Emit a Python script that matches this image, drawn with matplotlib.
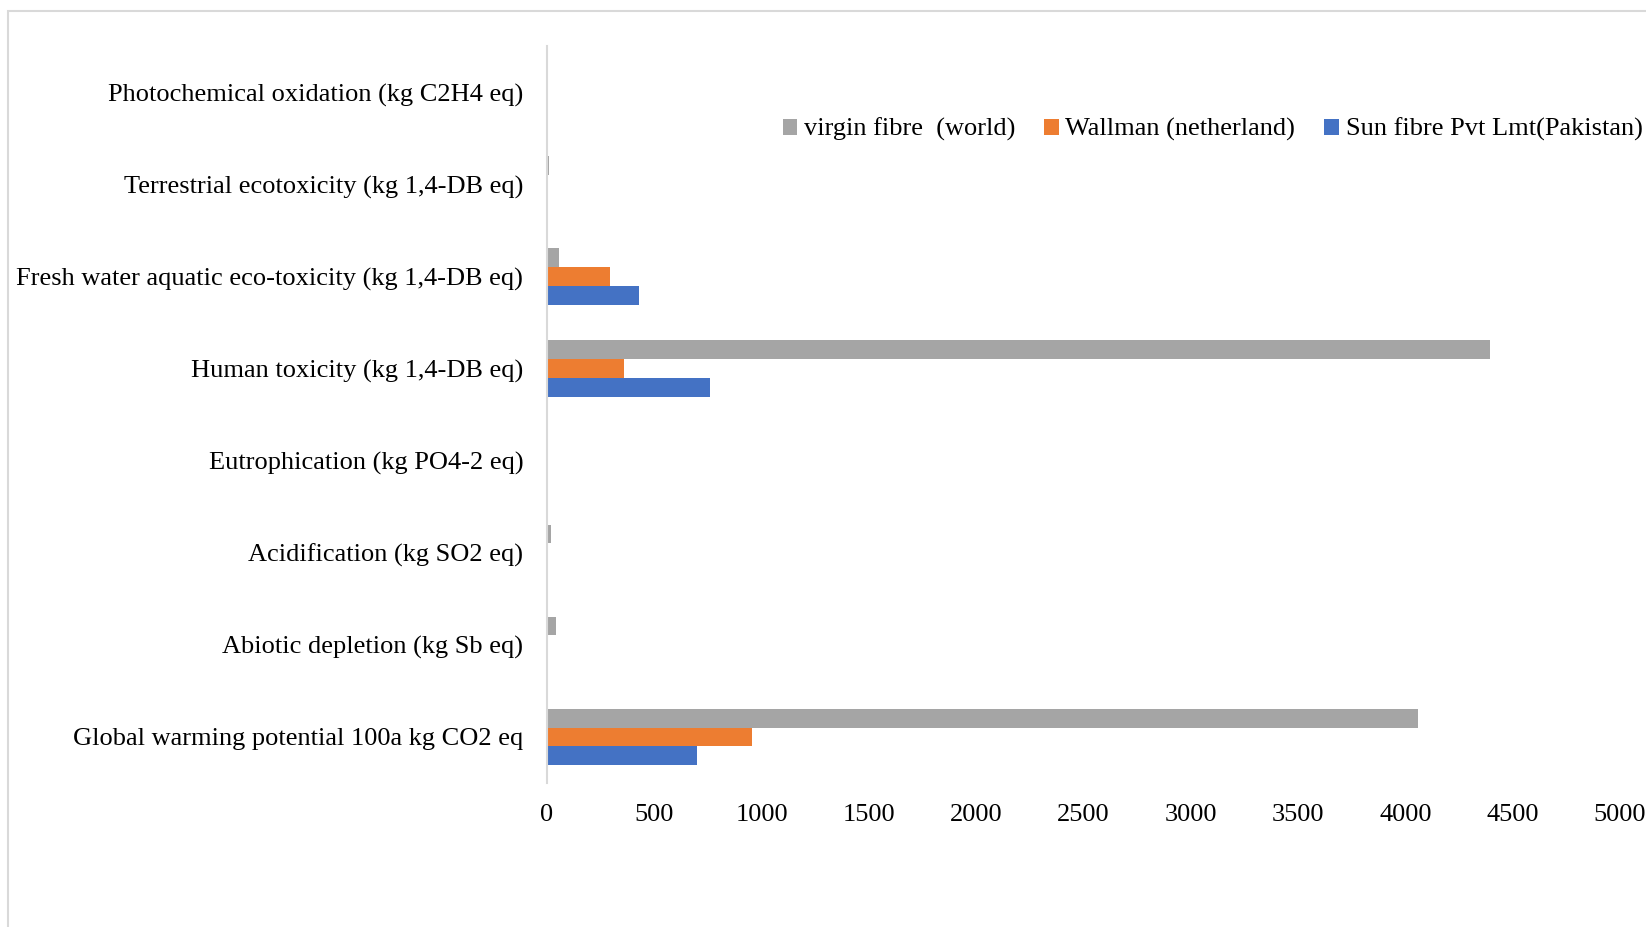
import matplotlib
matplotlib.use("Agg")
import matplotlib.pyplot as plt
from matplotlib.patches import Rectangle
import numpy as np

plt.rcParams['font.family'] = ['Liberation Serif', 'DejaVu Serif']

categories = [
    "Global warming potential 100a kg CO2 eq",
    "Abiotic depletion (kg Sb eq)",
    "Acidification (kg SO2 eq)",
    "Eutrophication (kg PO4-2 eq)",
    "Human toxicity (kg 1,4-DB eq)",
    "Fresh water aquatic eco-toxicity (kg 1,4-DB eq)",
    "Terrestrial ecotoxicity (kg 1,4-DB eq)",
    "Photochemical oxidation (kg C2H4 eq)",
]
virgin_world = [4060, 42, 19, 2, 4392, 56, 10, 1]
wallman_nl = [955, 2, 1, 1, 357, 293, 2, 0.5]
sun_fibre_pk = [697, 5, 1, 0.5, 758, 427, 1, 0.3]

series_names = ["virgin fibre  (world)", "Wallman (netherland)", "Sun fibre Pvt Lmt(Pakistan)"]
colors = ["#A5A5A5", "#ED7D31", "#4472C4"]

fig = plt.figure(figsize=(16.46, 9.27), dpi=100)
ax = fig.add_axes([0.3323, 0.1553, 0.6519, 0.7947])

y = np.arange(len(categories))
h = 0.205
offsets = [h, 0.0, -h]
for vals, off, col, name in zip([virgin_world, wallman_nl, sun_fibre_pk], offsets, colors, series_names):
    ax.barh(y + off, vals, height=h, color=col, label=name)

ax.set_xlim(0, 5000)
ax.set_ylim(-0.5, len(categories) - 0.5)
ax.set_xticks(np.arange(0, 5001, 500))
ax.set_yticks(y)
ax.set_yticklabels(categories)
ax.tick_params(axis='both', length=0, labelsize=19, colors='black')
ax.tick_params(axis='y', pad=17)
ax.tick_params(axis='x', pad=15)
for side in ['top', 'right', 'bottom']:
    ax.spines[side].set_visible(False)
ax.spines['left'].set_color('#D9D9D9')
ax.spines['left'].set_linewidth(1.5)

leg = ax.legend(loc='upper right', bbox_to_anchor=(1.043, 0.935), ncol=3, frameon=False,
                fontsize=19, handlelength=0.55, handleheight=0.55, handletextpad=0.25,
                columnspacing=1.1)

# outer chart frame
fig.patches.append(Rectangle((8 / 1646, -0.05), 1.2, 1 - 11 / 927 + 0.05,
                             transform=fig.transFigure, fill=False,
                             edgecolor='#D9D9D9', linewidth=1.5))

fig.savefig("out.png", dpi=100, facecolor='white')
